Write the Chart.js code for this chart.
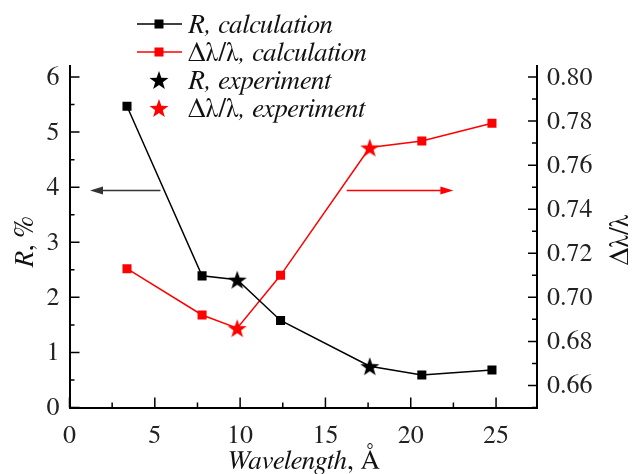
<!DOCTYPE html>
<html>
<head>
<meta charset="utf-8">
<script src="https://cdn.jsdelivr.net/npm/chart.js@4/dist/chart.umd.min.js"></script>
<style>
  body { margin: 0; background: #fff; }
  canvas { display: block; }
</style>
</head>
<body>
<canvas id="myChart" width="639" height="474"></canvas>
<script>
// values
const calcWavelength = [3.37, 7.77, 12.37, 20.65, 24.76];
const calcR = [5.47, 2.39, 1.58, 0.59, 0.68];
const calcDL = [0.713, 0.692, 0.710, 0.771, 0.779];
const expWavelength = [9.83, 17.6];
const expR = [2.32, 0.75];
const expDL = [0.686, 0.768];

const xTicks = [0, 5, 10, 15, 20, 25];
const rTicks = [0, 1, 2, 3, 4, 5, 6];
const dlTicks = [0.66, 0.68, 0.70, 0.72, 0.74, 0.76, 0.78, 0.80];

const FONT = 'FreeSerif, Tinos, "Times New Roman", serif';
const TEXT_SIZE = 27;

function makeStar(color, size) {
    const c = document.createElement('canvas');
    c.width = size; c.height = size;
    const g = c.getContext('2d');
    g.fillStyle = color;
    g.beginPath();
    for (let i = 0; i < 10; i++) {
        const r = i % 2 ? size * 0.2 : size / 2;
        const a = -Math.PI / 2 + i * Math.PI / 5;
        const px = size / 2 + r * Math.cos(a), py = size / 2 + 1 + r * Math.sin(a);
        i === 0 ? g.moveTo(px, py) : g.lineTo(px, py);
    }
    g.closePath();
    g.fill();
    return c;
}
const blackStar = makeStar('#000', 20);
const redStar = makeStar('#ff0000', 20);

// line goes through calculated and experimental points
function merged(ys, expYs) {
    const pts = calcWavelength.map((x, i) => ({x: x, y: ys[i], calc: true}))
        .concat(expWavelength.map((x, i) => ({x: x, y: expYs[i], calc: false})));
    return pts.sort((a, b) => a.x - b.x);
}
const rLine = merged(calcR, expR);
const dlLine = merged(calcDL, expDL);

function drawRich(ctx, parts, x, y, align) {
    let w = 0;
    const f = p => (p[1] ? 'italic ' : '') + TEXT_SIZE + 'px ' + FONT;
    parts.forEach(p => { ctx.font = f(p); w += ctx.measureText(p[0]).width; });
    let cx = align === 'center' ? x - w / 2 : x;
    parts.forEach(p => {
        ctx.font = f(p);
        ctx.fillText(p[0], cx, y);
        cx += ctx.measureText(p[0]).width;
    });
}

function arrow(ctx, x1, x2, y, color) {
    const dir = Math.sign(x2 - x1);
    ctx.strokeStyle = color; ctx.fillStyle = color; ctx.lineWidth = 1.5;
    ctx.beginPath(); ctx.moveTo(x1, y); ctx.lineTo(x2 - dir * 10, y); ctx.stroke();
    ctx.beginPath(); ctx.moveTo(x2, y); ctx.lineTo(x2 - dir * 13, y - 4); ctx.lineTo(x2 - dir * 13, y + 4); ctx.closePath(); ctx.fill();
}

const overlay = {
    id: 'overlay',
    afterDraw(chart) {
        const ctx = chart.ctx;
        const xs = chart.scales.x, yl = chart.scales.y, yr = chart.scales.y1;
        const area = chart.chartArea;
        ctx.save();
        ctx.strokeStyle = '#000';
        ctx.lineWidth = 1.5;
        ctx.beginPath();
        for (let v = 0; v <= 6; v += 0.5) {
            const p = yl.getPixelForValue(v);
            ctx.moveTo(area.left, p); ctx.lineTo(area.left + (v % 1 === 0 ? 10 : 5), p);
        }
        for (let i = 65; i <= 80; i++) {
            const p = yr.getPixelForValue(i / 100);
            ctx.moveTo(area.right, p); ctx.lineTo(area.right - (i % 2 === 0 ? 9 : 5), p);
        }
        for (let v = 0; v <= 25; v += 2.5) {
            const p = xs.getPixelForValue(v);
            ctx.moveTo(p, area.bottom); ctx.lineTo(p, area.bottom - (v % 5 === 0 ? 10 : 5));
        }
        ctx.stroke();

        // arrows pointing to the axes
        const ay = yl.getPixelForValue(3.94);
        arrow(ctx, xs.getPixelForValue(5.33), xs.getPixelForValue(1.2), ay, '#333');
        arrow(ctx, xs.getPixelForValue(16.25), xs.getPixelForValue(22.5), ay, '#ff0000');

        // legend
        ctx.textBaseline = 'middle';
        const rows = [
            {color: '#000', star: null, parts: [['R', true], [', calculation', true]]},
            {color: '#ff0000', star: null, parts: [['Δλ/λ', false], [', calculation', true]]},
            {color: '#000', star: blackStar, parts: [['R', true], [', experiment', true]]},
            {color: '#ff0000', star: redStar, parts: [['Δλ/λ', false], [', experiment', true]]}
        ];
        rows.forEach((r, i) => {
            const y = 24 + i * 28;
            if (r.star) {
                ctx.drawImage(r.star, 149, y - 10);
            } else {
                ctx.strokeStyle = r.color; ctx.lineWidth = 1.5;
                ctx.beginPath(); ctx.moveTo(137, y); ctx.lineTo(182, y); ctx.stroke();
                ctx.fillStyle = r.color;
                ctx.fillRect(154.5, y - 4.5, 9, 9);
            }
            ctx.fillStyle = '#111';
            drawRich(ctx, r.parts, 188, y + 1, 'left');
        });

        // axis titles
        ctx.textBaseline = 'alphabetic';
        drawRich(ctx, [['Wavelength', true], [', Å', false]], 303, 469, 'center');
        ctx.save();
        ctx.translate(33, 242); ctx.rotate(-Math.PI / 2);
        drawRich(ctx, [['R', true], [', %', false]], 0, 0, 'center');
        ctx.restore();
        ctx.save();
        ctx.translate(628, 240); ctx.rotate(-Math.PI / 2);
        drawRich(ctx, [['Δλ/λ', false]], 0, 0, 'center');
        ctx.restore();
        ctx.restore();
    }
};

const tickFont = {family: FONT, size: 26};

new Chart(document.getElementById('myChart'), {
    type: 'line',
    data: {
        datasets: [
            {
                label: 'R, experiment',
                data: expWavelength.map((x, i) => ({x: x, y: expR[i]})),
                yAxisID: 'y', showLine: false,
                pointStyle: blackStar, order: 0
            },
            {
                label: 'Δλ/λ, experiment',
                data: expWavelength.map((x, i) => ({x: x, y: expDL[i]})),
                yAxisID: 'y1', showLine: false,
                pointStyle: redStar, order: 1
            },
            {
                label: 'R, calculation',
                data: rLine,
                yAxisID: 'y',
                borderColor: '#000', backgroundColor: '#000', borderWidth: 1.5,
                pointStyle: 'rect',
                pointRadius: rLine.map(p => p.calc ? 6.4 : 0),
                pointBorderWidth: 0, order: 2
            },
            {
                label: 'Δλ/λ, calculation',
                data: dlLine,
                yAxisID: 'y1',
                borderColor: '#ff0000', backgroundColor: '#ff0000', borderWidth: 1.5,
                pointStyle: 'rect',
                pointRadius: dlLine.map(p => p.calc ? 6.4 : 0),
                pointBorderWidth: 0, order: 3
            }
        ]
    },
    options: {
        responsive: false,
        animation: false,
        layout: {padding: {top: 66, left: 0, right: 0, bottom: 0}},
        plugins: {legend: {display: false}, tooltip: {enabled: false}},
        scales: {
            x: {
                type: 'linear', min: 0, max: 27.4,
                afterFit: s => { s.height = 66.5; },
                grid: {display: false, drawTicks: false},
                border: {display: true, color: '#000', width: 2},
                ticks: {
                    font: tickFont, color: '#222', padding: 12, maxRotation: 0,
                    includeBounds: false, stepSize: 5,
                    callback: v => xTicks.includes(v) ? v : ''
                }
            },
            y: {
                position: 'left', min: 0, max: 6.2,
                afterFit: s => { s.width = 69.5; },
                grid: {display: false, drawTicks: false},
                border: {display: true, color: '#000', width: 2},
                ticks: {
                    font: tickFont, color: '#222', padding: 10,
                    includeBounds: false, stepSize: 1,
                    callback: v => rTicks.includes(v) ? v : ''
                }
            },
            y1: {
                position: 'right', min: 0.65, max: 0.805,
                afterFit: s => { s.width = 102; },
                grid: {display: false, drawTicks: false},
                border: {display: true, color: '#000', width: 2},
                ticks: {
                    font: tickFont, color: '#222', padding: 10,
                    includeBounds: false, stepSize: 0.02,
                    callback: v => {
                        const t = dlTicks.find(d => Math.abs(d - v) < 1e-6);
                        return t !== undefined ? t.toFixed(2) : '';
                    }
                }
            }
        }
    },
    plugins: [overlay]
});
</script>
</body>
</html>
